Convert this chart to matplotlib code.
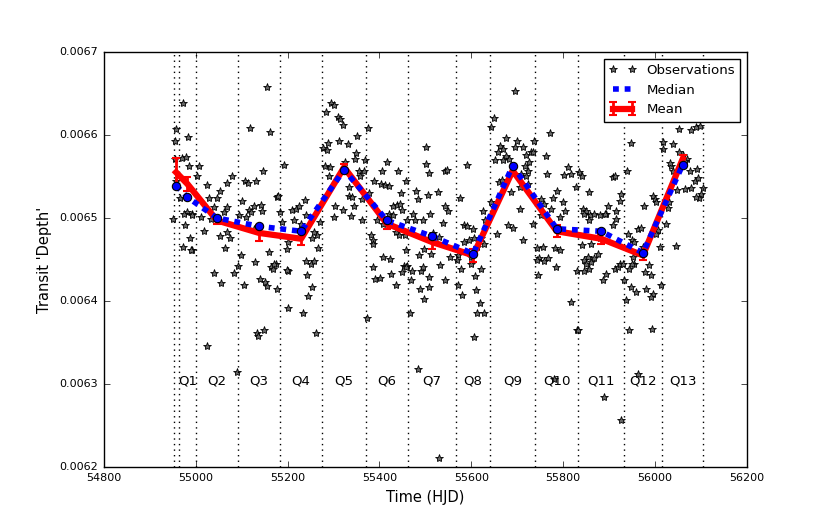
import matplotlib
matplotlib.use("Agg")
import matplotlib.pyplot as plt
from matplotlib.ticker import FormatStrFormatter, MultipleLocator
import numpy as np

plt.style.use("classic")
plt.rcParams["font.family"] = ["DejaVu Sans"]

# quarter boundaries (HJD) - Q0 .. Q13
quarter_edges = [54952, 54963, 55001, 55092, 55184, 55275, 55371, 55462,
                 55567, 55641, 55739, 55833, 55932, 56015, 56105]
quarter_names = ["Q0", "Q1", "Q2", "Q3", "Q4", "Q5", "Q6", "Q7", "Q8",
                 "Q9", "Q10", "Q11", "Q12", "Q13"]

# per-quarter statistics, depth in ppm
median_ppm = [6539, 6525, 6500, 6490, 6484, 6558, 6497, 6478, 6457, 6563,
              6487, 6484, 6458, 6564]
mean_ppm = [6555, 6541, 6497, 6482, 6475, 6561, 6493, 6471, 6455, 6557,
            6484, 6475, 6455, 6571]
mean_err_ppm = [17, 8, 4, 10, 8, 4, 6, 8, 8, 4, 7, 6, 6, 5]

# individual transit observations: time (HJD) and depth (ppm)
obs_time = [
    # Q0
    54957, 54956, 54951, 54955, 54958,
    # Q1
    54973, 54983, 54970, 54979, 54986, 54967, 54982, 54975, 54992, 54991,
    54977, 54988, 54973, 54993, 54990,
    # Q2
    55008, 55004, 55025, 55080, 55069, 55053, 55029, 55047, 55040, 55069,
    55062, 55012, 55033, 55018, 55054, 55069, 55075, 55063, 55039, 55055,
    55024, 55084, 55091,
    # Q3
    55107, 55113, 55131, 55147, 55119, 55162, 55155, 55100, 55126, 55116,
    55143, 55121, 55145, 55095, 55109, 55127, 55160, 55098, 55178, 55092,
    55105, 55129, 55133, 55136, 55149, 55140, 55150, 55156, 55163, 55169,
    55174, 55177, 55171, 55179,
    # Q4
    55193, 55184, 55187, 55198, 55209, 55218, 55225, 55214, 55229, 55200,
    55201, 55200, 55233, 55238, 55240, 55254, 55265, 55270, 55267, 55258,
    55240, 55251, 55258, 55243, 55253, 55245, 55262, 55198,
    # Q5
    55294, 55302, 55283, 55309, 55314, 55320, 55352, 55287, 55278, 55286,
    55311, 55331, 55350, 55347, 55369, 55326, 55282, 55292, 55355, 55291,
    55367, 55357, 55333, 55334, 55341, 55362, 55304, 55321, 55345, 55301,
    55338, 55363,
    # Q6
    55376, 55389, 55405, 55416, 55441, 55403, 55413, 55421, 55378, 55458,
    55447, 55429, 55438, 55445, 55449, 55420, 55429, 55394, 55407, 55435,
    55443, 55381, 55385, 55387, 55407, 55423, 55458, 55455, 55460, 55374,
    55385, 55391, 55401, 55425, 55436, 55450, 55454, 55461, 55458,
    # Q7
    55471, 55469, 55466, 55483, 55490, 55494, 55488, 55507, 55498, 55529,
    55502, 55502, 55508, 55542, 55547, 55480, 55484, 55506, 55527, 55473,
    55495, 55509, 55542, 55549, 55538, 55530, 55517, 55498, 55508, 55531,
    55542, 55553, 55478, 55487, 55512,
    # Q8
    55591, 55575, 55585, 55591, 55603, 55585, 55596, 55605, 55625, 55630,
    55620, 55627, 55612, 55570, 55599, 55569, 55577, 55599, 55621, 55607,
    55572, 55579, 55610, 55618, 55612, 55628, 55605,
    # Q9
    55694, 55649, 55642, 55675, 55700, 55695, 55712, 55663, 55668, 55657,
    55719, 55729, 55734, 55736, 55675, 55683, 55652, 55668, 55717, 55726,
    55724, 55708, 55719, 55661, 55666, 55723, 55707, 55686, 55643, 55649,
    55705, 55679, 55690, 55656, 55712, 55734,
    # Q10
    55772, 55763, 55765, 55801, 55810, 55817, 55787, 55777, 55799, 55803,
    55794, 55774, 55752, 55759, 55752, 55777, 55743, 55756, 55748, 55766,
    55782, 55792, 55743, 55759, 55784, 55745, 55816, 55831, 55779, 55828,
    # Q11
    55835, 55841, 55856, 55908, 55912, 55926, 55923, 55914, 55897, 55893,
    55915, 55909, 55843, 55850, 55859, 55868, 55879, 55890, 55856, 55846,
    55841, 55861, 55879, 55876, 55866, 55854, 55846, 55850, 55861, 55830,
    55846, 55856, 55893, 55912, 55919, 55923, 55887, 55930, 55832, 55888,
    55926,
    # Q12
    55948, 55939, 55976, 55995, 55999, 55962, 55970, 55941, 55950, 55955,
    55973, 56011, 55987, 55979, 55991, 55952, 55955, 55943, 55933, 55937,
    55948, 55959, 55981, 55995, 55991, 56013, 55944, 55994, 55950, 55962,
    56006, 56001, 56003,
    # Q13
    56053, 56079, 56089, 56097, 56039, 56018, 56017, 56053, 56060, 56069,
    56064, 56035, 56039, 56033, 56075, 56091, 56086, 56093, 56079, 56048,
    56064, 56104, 56100, 56095, 56090, 56027, 56031, 56024, 56045,
]
obs_ppm = [
    # Q0
    6607, 6593, 6499, 6571, 6544,
    # Q1
    6638, 6598, 6572, 6573, 6563, 6524, 6507, 6505, 6505, 6503,
    6491, 6476, 6465, 6462, 6461,
    # Q2
    6563, 6551, 6540, 6550, 6542, 6533, 6524, 6524, 6513, 6513,
    6507, 6501, 6499, 6484, 6478, 6483, 6476, 6464, 6434, 6422,
    6346, 6434, 6314,
    # Q3
    6545, 6542, 6545, 6557, 6608, 6603, 6658, 6521, 6515, 6510,
    6516, 6507, 6509, 6504, 6501, 6487, 6459, 6455, 6525, 6442,
    6419, 6447, 6362, 6358, 6365, 6427, 6423, 6418, 6441, 6438,
    6444, 6414, 6444, 6527,
    # Q4
    6564, 6507, 6495, 6463, 6510, 6511, 6515, 6498, 6493, 6471,
    6436, 6392, 6385, 6522, 6503, 6476, 6479, 6495, 6464, 6483,
    6448, 6445, 6448, 6431, 6417, 6406, 6361, 6437,
    # Q5
    6639, 6636, 6628, 6622, 6619, 6612, 6599, 6590, 6584, 6582,
    6593, 6589, 6578, 6571, 6570, 6568, 6562, 6561, 6556, 6550,
    6557, 6550, 6537, 6527, 6525, 6523, 6514, 6510, 6514, 6501,
    6502, 6498,
    # Q6
    6608, 6544, 6556, 6567, 6556, 6541, 6540, 6539, 6530, 6544,
    6530, 6515, 6516, 6517, 6510, 6505, 6504, 6497, 6493, 6483,
    6479, 6479, 6473, 6469, 6453, 6451, 6462, 6479, 6497, 6379,
    6441, 6427, 6428, 6432, 6419, 6435, 6442, 6442, 6441,
    # Q7
    6436, 6425, 6386, 6318, 6436, 6441, 6414, 6417, 6403, 6211,
    6586, 6565, 6554, 6556, 6558, 6533, 6523, 6528, 6531, 6505,
    6497, 6505, 6515, 6509, 6494, 6477, 6482, 6463, 6429, 6443,
    6425, 6453, 6497, 6456, 6457,
    # Q8
    6564, 6524, 6492, 6490, 6487, 6471, 6473, 6476, 6508, 6497,
    6476, 6469, 6465, 6455, 6453, 6450, 6439, 6444, 6439, 6430,
    6419, 6407, 6413, 6398, 6386, 6385, 6357,
    # Q9
    6653, 6621, 6609, 6596, 6593, 6586, 6586, 6587, 6583, 6579,
    6576, 6580, 6579, 6593, 6575, 6571, 6570, 6570, 6563, 6568,
    6557, 6553, 6550, 6543, 6546, 6541, 6537, 6531, 6519, 6513,
    6511, 6491, 6488, 6481, 6473, 6493,
    # Q10
    6602, 6575, 6553, 6552, 6561, 6553, 6533, 6524, 6519, 6508,
    6501, 6511, 6523, 6517, 6504, 6491, 6464, 6465, 6452, 6452,
    6464, 6461, 6450, 6448, 6441, 6431, 6399, 6365, 6306, 6537,
    # Q11
    6555, 6551, 6531, 6549, 6550, 6529, 6521, 6509, 6515, 6505,
    6499, 6491, 6511, 6509, 6503, 6505, 6503, 6505, 6497, 6505,
    6467, 6469, 6476, 6457, 6452, 6453, 6449, 6445, 6447, 6436,
    6436, 6439, 6433, 6439, 6441, 6445, 6425, 6445, 6365, 6285,
    6257,
    # Q12
    6590, 6557, 6515, 6527, 6523, 6487, 6488, 6481, 6473, 6471,
    6465, 6465, 6443, 6435, 6431, 6453, 6445, 6439, 6425, 6401,
    6417, 6411, 6415, 6409, 6405, 6419, 6365, 6366, 6444, 6312,
    6485, 6481, 6519,
    # Q13
    6607, 6606, 6609, 6611, 6589, 6592, 6583, 6579, 6576, 6571,
    6569, 6563, 6557, 6566, 6557, 6559, 6545, 6548, 6536, 6534,
    6535, 6536, 6529, 6524, 6525, 6512, 6519, 6493, 6466,
]

obs_depth = np.array(obs_ppm) * 1e-6
edges = np.array(quarter_edges, dtype=float)
mid_time = 0.5 * (edges[:-1] + edges[1:])
median_depth = np.array(median_ppm) * 1e-6
mean_depth = np.array(mean_ppm) * 1e-6
mean_err = np.array(mean_err_ppm) * 1e-6

fig = plt.figure(figsize=(8.3, 5.19), facecolor="w")
ax = fig.add_subplot(111)
fig.subplots_adjust(left=0.125, right=0.9, bottom=0.1, top=0.9)

ax.plot(obs_time, obs_depth, "*", color="0.4", mec="k", mew=0.6, ms=6,
        label="Observations", zorder=1)

for e in quarter_edges:
    ax.axvline(e, color="k", ls=":", lw=1, zorder=1.5)

ax.errorbar(mid_time, mean_depth, yerr=mean_err, color="r", ecolor="r",
            lw=4.5, elinewidth=2, capsize=3, capthick=1.5, label="Mean",
            zorder=2)
ax.plot(mid_time, median_depth, color="b", lw=4, ls=(0, (4.2, 4.2)),
        label="Median", zorder=3)
ax.plot(mid_time, median_depth, "bo", ms=6, mec="k", mew=0.8, zorder=4)

for name, t in zip(quarter_names, mid_time):
    if name == "Q0":
        continue
    ax.text(t, 0.0063, name, ha="center", va="baseline", fontsize=9.6)

ax.set_xlim(54800, 56200)
ax.set_ylim(0.0062, 0.0067)
ax.xaxis.set_major_locator(MultipleLocator(200))
ax.yaxis.set_major_locator(MultipleLocator(0.0001))
ax.xaxis.set_major_formatter(FormatStrFormatter("%d"))
ax.yaxis.set_major_formatter(FormatStrFormatter("%.4f"))
ax.tick_params(labelsize=8)
ax.set_xlabel("Time (HJD)", fontsize=10.5)
ax.set_ylabel("Transit 'Depth'", fontsize=10.5)
ax.yaxis.set_label_coords(-0.08, 0.5)

ax.legend(loc="upper right", fontsize=9.6, numpoints=2)

fig.savefig("out.png", dpi=100, facecolor="w")
